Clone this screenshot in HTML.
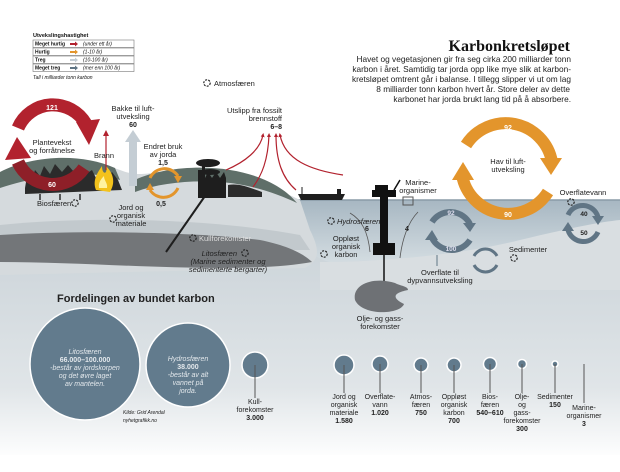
<!DOCTYPE html>
<html><head><meta charset="utf-8"><style>
html,body{margin:0;padding:0;background:#fff}
svg{display:block;font-family:"Liberation Sans","DejaVu Sans",sans-serif}
</style></head><body>
<svg width="620" height="472" viewBox="0 0 620 472" xmlns="http://www.w3.org/2000/svg">
<defs>
<linearGradient id="bg" x1="0" y1="0" x2="0" y2="1">
<stop offset="0" stop-color="#c6cfd5"/><stop offset="0.72" stop-color="#e0e5e8"/><stop offset="1" stop-color="#ffffff"/>
</linearGradient>
<linearGradient id="sea" x1="0" y1="0" x2="0" y2="1">
<stop offset="0" stop-color="#a7b7c2"/><stop offset="1" stop-color="#d3dce1"/>
</linearGradient>
<marker id="ar" markerWidth="4" markerHeight="4" refX="2" refY="2" orient="auto" markerUnits="userSpaceOnUse"><path d="M0,0 L4,2 L0,4 z" fill="#b2222e"/></marker>
</defs>
<rect x="0" y="200" width="620" height="260" fill="url(#bg)"/>
<rect x="0" y="455" width="620" height="17" fill="#fff"/>
<path d="M290,200 L620,200 L620,222 C560,232 500,250 440,258 L330,262 C310,258 300,240 290,220 z" fill="url(#sea)"/>
<path d="M290,200 L620,200" stroke="#8a9ba7" stroke-width="1.5"/>
<path d="M320,262 C380,262 460,255 520,240 C570,228 600,222 620,220 L620,290 L320,290 z" fill="#d9dee1"/>
<path d="M0,175 C30,160 80,155 120,170 C140,178 150,172 175,170 C220,168 260,180 300,200 L310,230 C320,250 320,260 305,268 L0,275 z" fill="#d5dadd"/>
<path d="M0,172 C30,156 80,152 115,168 L120,180 C90,170 50,172 0,188 z" fill="#5f6f69"/>
<path d="M135,180 C160,168 200,165 230,170 C262,175 285,188 297,203 C278,194 250,184 220,182 C190,180 160,183 135,192 z" fill="#5f6f69"/>
<path d="M0,225 C100,215 220,220 300,235 L310,250 L0,250 z" fill="#c2c9cd"/>
<path d="M0,235 C80,230 200,232 260,240 C290,246 305,255 312,262 C290,266 260,268 220,268 C150,268 70,262 0,262 z" fill="#737679"/>
<path d="M25,188 L27,176 L32,180 L35,170 L40,176 L44,166 L50,174 L55,164 L62,172 L68,165 L74,172 L80,166 L86,174 L92,170 L96,178 L100,174 L106,180 L112,172 L118,180 L122,190 L25,194 z" fill="#2b2b2b"/>
<path d="M40,194 v6 M60,194 v6 M80,194 v6" stroke="#2b2b2b" stroke-width="1.5"/>
<path d="M96,190 C92,180 98,172 102,166 C102,175 108,175 106,166 C113,173 116,182 110,192 z" fill="#f3c21c"/>
<path d="M99,188 C98,182 102,178 104,176 C104,181 108,183 107,188 z" fill="#fff3a0"/>
<path d="M18,128 A38,38 0 0 1 86,124" fill="none" stroke="#b2222e" stroke-width="13"/>
<path d="M76,122 L100,119 L89,145 z" fill="#b2222e"/>
<path d="M84,168 A38,38 0 0 1 18,162" fill="none" stroke="#8e1f28" stroke-width="13"/>
<path d="M5,160 L17,137 L31,158 z" fill="#b2222e"/>
<text x="52" y="110" font-size="7" font-weight="bold" fill="#fff" text-anchor="middle">121</text>
<text x="52" y="187" font-size="7" font-weight="bold" fill="#fff" text-anchor="middle">60</text>
<text x="52" y="145" font-size="7.5" fill="#222" text-anchor="middle">Plantevekst</text>
<text x="52" y="153" font-size="7.5" fill="#222" text-anchor="middle">og forråtnelse</text>
<line x1="106" y1="170" x2="106" y2="134" stroke="#b2222e" stroke-width="1.2"/>
<path d="M103,136 L106,130 L109,136 z" fill="#b2222e"/>
<text x="104" y="158" font-size="7.5" fill="#222" text-anchor="middle">Brann</text>
<rect x="129" y="140" width="8" height="46" fill="#c4cdd4"/>
<path d="M125,142 L133,130 L141,142 z" fill="#c4cdd4"/>
<text x="133" y="111" font-size="7.5" fill="#222" text-anchor="middle">Bakke til luft-</text>
<text x="133" y="119" font-size="7.5" fill="#222" text-anchor="middle">utveksling</text>
<text x="133" y="127" font-size="7" font-weight="bold" fill="#222" text-anchor="middle">60</text>
<path d="M150,178 A16,16 0 0 1 178,176" fill="none" stroke="#e3952c" stroke-width="3"/>
<path d="M178,188 A16,16 0 0 1 150,190" fill="none" stroke="#e3952c" stroke-width="3"/>
<path d="M174,176 L182,176 L178,183 z" fill="#e3952c"/>
<path d="M146,190 L154,190 L150,183 z" fill="#e3952c"/>
<text x="163" y="149" font-size="7.5" fill="#222" text-anchor="middle">Endret bruk</text>
<text x="163" y="157" font-size="7.5" fill="#222" text-anchor="middle">av jorda</text>
<text x="163" y="165" font-size="7" font-weight="bold" fill="#222" text-anchor="middle">1,5</text>
<text x="161" y="206" font-size="7" font-weight="bold" fill="#222" text-anchor="middle">0,5</text>
<path d="M198,178 L198,170 L202,170 L202,165 L205,165 L205,178 L208,172 L212,178 L216,172 L220,178 L224,172 L226,178 L226,198 L198,198 z" fill="#1e1e1e"/>
<ellipse cx="208" cy="163" rx="12" ry="4" fill="#1e1e1e"/>
<ellipse cx="210" cy="172" rx="10" ry="3" fill="#1e1e1e"/>
<line x1="205" y1="196" x2="166" y2="252" stroke="#1e1e1e" stroke-width="2"/>
<path d="M228,185 C240,183 250,188 262,192 L262,197 L228,197 z" fill="#2c2c2c"/>
<g fill="none" stroke="#b2222e" stroke-width="1.2" marker-end="url(#ar)">
<path d="M226,170 C245,162 260,150 263,135"/>
<path d="M253,187 C262,175 268,160 269,135"/>
<path d="M296,190 C282,178 276,160 276,135"/>
<path d="M343,175 C310,170 285,160 280,135"/>
</g>
<text x="282" y="113" font-size="7.5" fill="#222" text-anchor="end">Utslipp fra fossilt</text>
<text x="282" y="121" font-size="7.5" fill="#222" text-anchor="end">brennstoff</text>
<text x="282" y="129" font-size="7" font-weight="bold" fill="#222" text-anchor="end">6–8</text>
<circle cx="207" cy="83" r="3.2" fill="none" stroke="#222" stroke-width="1.2" stroke-dasharray="2 1.2"/>
<text x="214" y="86" font-size="7.5" fill="#222">Atmosfæren</text>
<path d="M298,194 L345,194 L342,200 L301,200 z" fill="#1e1e1e"/>
<rect x="337" y="189" width="4" height="5" fill="#1e1e1e"/>
<line x1="302" y1="194" x2="302" y2="187" stroke="#1e1e1e"/>
<rect x="380" y="185" width="8" height="65" fill="#111"/>
<rect x="372" y="190" width="24" height="7" fill="#111"/>
<rect x="375" y="185" width="10" height="5" fill="#111"/>
<line x1="394" y1="190" x2="400" y2="180" stroke="#111" stroke-width="1.5"/>
<rect x="373" y="243" width="22" height="12" fill="#111"/>
<line x1="384" y1="255" x2="384" y2="295" stroke="#111" stroke-width="1.5"/>
<path d="M355,300 C352,285 372,276 395,283 C400,286 408,286 408,290 C398,292 388,296 404,304 C400,315 362,316 355,300 z" fill="#6e7175"/>
<text x="380" y="321" font-size="7.5" fill="#222" text-anchor="middle">Olje- og gass-</text>
<text x="380" y="329" font-size="7.5" fill="#222" text-anchor="middle">forekomster</text>
<rect x="403" y="197" width="10" height="8" fill="none" stroke="#555" stroke-width="1"/>
<text x="418" y="185" font-size="7.5" fill="#222" text-anchor="middle">Marine-</text>
<text x="418" y="193" font-size="7.5" fill="#222" text-anchor="middle">organismer</text>
<path d="M350,213 C362,220 368,232 370,252" fill="none" stroke="#555" stroke-width="0.8"/>
<path d="M400,258 C402,240 408,222 418,212" fill="none" stroke="#555" stroke-width="0.8"/>
<text x="367" y="231" font-size="7" font-weight="bold" fill="#222" text-anchor="middle">6</text>
<text x="407" y="231" font-size="7" font-weight="bold" fill="#222" text-anchor="middle">4</text>
<circle cx="331" cy="221" r="3.2" fill="none" stroke="#222" stroke-width="1.2" stroke-dasharray="2 1.2"/>
<text x="337" y="224" font-size="7.5" font-style="italic" fill="#222">Hydrosfæren</text>
<text x="346" y="241" font-size="7.5" fill="#222" text-anchor="middle">Oppløst</text>
<text x="346" y="249" font-size="7.5" fill="#222" text-anchor="middle">organisk</text>
<text x="346" y="257" font-size="7.5" fill="#222" text-anchor="middle">karbon</text>
<circle cx="324" cy="254" r="3.2" fill="none" stroke="#222" stroke-width="1.2" stroke-dasharray="2 1.2"/>
<path d="M466,145 A47,47 0 0 1 552,162" fill="none" stroke="#e3952c" stroke-width="12"/>
<path d="M540,158 L562,158 L551,175 z" fill="#e3952c"/>
<path d="M548,192 A47,47 0 0 1 462,175" fill="none" stroke="#e3952c" stroke-width="12"/>
<path d="M452,180 L474,180 L463,162 z" fill="#e3952c"/>
<text x="508" y="130" font-size="7" font-weight="bold" fill="#fff" text-anchor="middle">92</text>
<text x="508" y="217" font-size="7" font-weight="bold" fill="#fff" text-anchor="middle">90</text>
<text x="508" y="164" font-size="7.5" fill="#222" text-anchor="middle">Hav til luft-</text>
<text x="508" y="172" font-size="7.5" fill="#222" text-anchor="middle">utveksling</text>
<path d="M432,222 A22,22 0 0 1 470,224" fill="none" stroke="#607585" stroke-width="6"/>
<path d="M470,240 A22,22 0 0 1 432,238" fill="none" stroke="#607585" stroke-width="6"/>
<path d="M463,223 L476,223 L470,232 z" fill="#607585"/>
<path d="M425,240 L438,240 L432,230 z" fill="#607585"/>
<text x="451" y="215" font-size="6.5" font-weight="bold" fill="#dde" text-anchor="middle">92</text>
<text x="451" y="251" font-size="6.5" font-weight="bold" fill="#dde" text-anchor="middle">100</text>
<line x1="437" y1="255" x2="437" y2="266" stroke="#607585" stroke-width="1"/>
<text x="440" y="275" font-size="7.5" fill="#222" text-anchor="middle">Overflate til</text>
<text x="440" y="283" font-size="7.5" fill="#222" text-anchor="middle">dypvannsutveksling</text>
<path d="M474,256 A13,13 0 0 1 497,256" fill="none" stroke="#607585" stroke-width="3"/>
<path d="M497,265 A13,13 0 0 1 474,265" fill="none" stroke="#607585" stroke-width="3"/>
<text x="528" y="252" font-size="7.5" fill="#222" text-anchor="middle">Sedimenter</text>
<circle cx="514" cy="258" r="3.2" fill="none" stroke="#222" stroke-width="1.2" stroke-dasharray="2 1.2"/>
<text x="583" y="195" font-size="7.5" fill="#222" text-anchor="middle">Overflatevann</text>
<circle cx="571" cy="202" r="3.2" fill="none" stroke="#222" stroke-width="1.2" stroke-dasharray="2 1.2"/>
<path d="M568,215 A16,16 0 0 1 598,217" fill="none" stroke="#607585" stroke-width="5"/>
<path d="M598,232 A16,16 0 0 1 568,230" fill="none" stroke="#607585" stroke-width="5"/>
<path d="M592,216 L604,216 L598,225 z" fill="#607585"/>
<path d="M562,231 L574,231 L568,222 z" fill="#607585"/>
<text x="584" y="216" font-size="6.5" font-weight="bold" fill="#222" text-anchor="middle">40</text>
<text x="584" y="235" font-size="6.5" font-weight="bold" fill="#222" text-anchor="middle">50</text>
<text x="37" y="206" font-size="7.5" fill="#222">Biosfæren</text>
<circle cx="75" cy="203" r="3.2" fill="none" stroke="#222" stroke-width="1.2" stroke-dasharray="2 1.2"/>
<text x="131" y="210" font-size="7.5" fill="#222" text-anchor="middle">Jord og</text>
<text x="131" y="218" font-size="7.5" fill="#222" text-anchor="middle">organisk</text>
<text x="131" y="226" font-size="7.5" fill="#222" text-anchor="middle">materiale</text>
<circle cx="113" cy="219" r="3.2" fill="none" stroke="#222" stroke-width="1.2" stroke-dasharray="2 1.2"/>
<circle cx="193" cy="238" r="3.2" fill="none" stroke="#222" stroke-width="1.2" stroke-dasharray="2 1.2"/>
<text x="199" y="241" font-size="7.5" fill="#ddd">Kullforekomster</text>
<text x="237" y="256" font-size="7.5" font-style="italic" fill="#222" text-anchor="end">Litosfæren</text>
<circle cx="245" cy="253" r="3.2" fill="none" stroke="#222" stroke-width="1.2" stroke-dasharray="2 1.2"/>
<text x="228" y="264" font-size="7.5" font-style="italic" fill="#222" text-anchor="middle">(Marine sedimenter og</text>
<text x="228" y="272" font-size="7.5" font-style="italic" fill="#222" text-anchor="middle">sedimenterte bergarter)</text>
<text x="33" y="37" font-size="5.5" font-weight="bold" fill="#111">Utvekslingshastighet</text>
<g font-size="5" fill="#111">
<rect x="33" y="40" width="101" height="7.5" fill="#fff" stroke="#777" stroke-width="0.6"/>
<rect x="33" y="48" width="101" height="7.5" fill="#fff" stroke="#777" stroke-width="0.6"/>
<rect x="33" y="56" width="101" height="7.5" fill="#fff" stroke="#777" stroke-width="0.6"/>
<rect x="33" y="64" width="101" height="7.5" fill="#fff" stroke="#777" stroke-width="0.6"/>
<text x="35" y="45.5" font-weight="bold">Meget hurtig</text>
<text x="35" y="53.5" font-weight="bold">Hurtig</text>
<text x="35" y="61.5" font-weight="bold">Treg</text>
<text x="35" y="69.5" font-weight="bold">Meget treg</text>
<path d="M70,43 h5 v-1.5 l3,2.5 l-3,2.5 v-1.5 h-5z" fill="#b2222e"/>
<path d="M70,51 h5 v-1.5 l3,2.5 l-3,2.5 v-1.5 h-5z" fill="#e3952c"/>
<path d="M70,59 h5 v-1.5 l3,2.5 l-3,2.5 v-1.5 h-5z" fill="#c4cdd4"/>
<path d="M70,67 h5 v-1.5 l3,2.5 l-3,2.5 v-1.5 h-5z" fill="#607585"/>
<text x="83" y="45.5" font-style="italic">(under ett år)</text>
<text x="83" y="53.5" font-style="italic">(1-10 år)</text>
<text x="83" y="61.5" font-style="italic">(10-100 år)</text>
<text x="83" y="69.5" font-style="italic">(mer enn 100 år)</text>
<text x="33" y="79" font-style="italic">Tall i milliarder tonn karbon</text>
</g>
<text x="570" y="51" font-size="16" font-weight="bold" font-family="Liberation Serif,serif" fill="#111" text-anchor="end">Karbonkretsløpet</text>
<g font-size="8.3" fill="#222" text-anchor="end">
<text x="571" y="62">Havet og vegetasjonen gir fra seg cirka 200 milliarder tonn</text>
<text x="571" y="72">karbon i året. Samtidig tar jorda opp like mye slik at karbon-</text>
<text x="571" y="82">kretsløpet omtrent går i balanse. I tillegg slipper vi ut om lag</text>
<text x="570" y="92">8 milliarder tonn karbon hvert år. Store deler av dette</text>
<text x="571" y="102">karbonet har jorda brukt lang tid på å absorbere.</text>
</g>
<text x="57" y="302" font-size="11" font-weight="bold" fill="#222">Fordelingen av bundet karbon</text>
<g fill="#627b8d" stroke="#fff" stroke-width="1.5">
<ellipse cx="85" cy="364" rx="55" ry="56"/>
<ellipse cx="188" cy="365" rx="42" ry="42"/>
<circle cx="255" cy="365" r="13"/>
<circle cx="344" cy="365" r="10"/>
<circle cx="380" cy="364" r="8"/>
<circle cx="421" cy="365" r="7"/>
<circle cx="454" cy="365" r="7"/>
<circle cx="490" cy="364" r="6.5"/>
<circle cx="522" cy="364" r="4.5"/>
<circle cx="555" cy="364" r="3"/>
</g>
<g stroke="#555" stroke-width="1">
<line x1="255" y1="365" x2="255" y2="398"/>
<line x1="344" y1="365" x2="344" y2="393"/>
<line x1="380" y1="364" x2="380" y2="393"/>
<line x1="421" y1="365" x2="421" y2="393"/>
<line x1="454" y1="365" x2="454" y2="393"/>
<line x1="490" y1="364" x2="490" y2="393"/>
<line x1="522" y1="364" x2="522" y2="393"/>
<line x1="555" y1="364" x2="555" y2="393"/>
<line x1="584" y1="364" x2="584" y2="403"/>
</g>
<g font-size="7" fill="#e3e8ec" text-anchor="middle">
<text x="85" y="354" font-style="italic">Litosfæren</text>
<text x="85" y="362" font-weight="bold">66.000–100.000</text>
<text x="85" y="370" font-style="italic">-består av jordskorpen</text>
<text x="85" y="378" font-style="italic">og det øvre laget</text>
<text x="85" y="386" font-style="italic">av mantelen.</text>
<text x="188" y="361" font-style="italic">Hydrosfæren</text>
<text x="188" y="369" font-weight="bold">38.000</text>
<text x="188" y="377" font-style="italic">-består av alt</text>
<text x="188" y="385" font-style="italic">vannet på</text>
<text x="188" y="393" font-style="italic">jorda.</text>
</g>
<text x="123" y="414" font-size="5" font-style="italic" fill="#222">Kilde: Grid Arendal</text>
<text x="123" y="422" font-size="5" font-style="italic" fill="#222">nyhetgrafikk.no</text>
<g font-size="7" fill="#222" text-anchor="middle">
<text x="255" y="404">Kull-</text><text x="255" y="412">forekomster</text><text x="255" y="420" font-weight="bold">3.000</text>
<text x="344" y="399">Jord og</text><text x="344" y="407">organisk</text><text x="344" y="415">materiale</text><text x="344" y="423" font-weight="bold">1.580</text>
<text x="380" y="399">Overflate-</text><text x="380" y="407">vann</text><text x="380" y="415" font-weight="bold">1.020</text>
<text x="421" y="399">Atmos-</text><text x="421" y="407">færen</text><text x="421" y="415" font-weight="bold">750</text>
<text x="454" y="399">Oppløst</text><text x="454" y="407">organisk</text><text x="454" y="415">karbon</text><text x="454" y="423" font-weight="bold">700</text>
<text x="490" y="399">Bios-</text><text x="490" y="407">færen</text><text x="490" y="415" font-weight="bold">540–610</text>
<text x="522" y="399">Olje-</text><text x="522" y="407">og</text><text x="522" y="415">gass-</text><text x="522" y="423">forekomster</text><text x="522" y="431" font-weight="bold">300</text>
<text x="555" y="399">Sedimenter</text><text x="555" y="407" font-weight="bold">150</text>
<text x="584" y="410">Marine-</text><text x="584" y="418">organismer</text><text x="584" y="426" font-weight="bold">3</text>
</g>
</svg>
</body></html>
